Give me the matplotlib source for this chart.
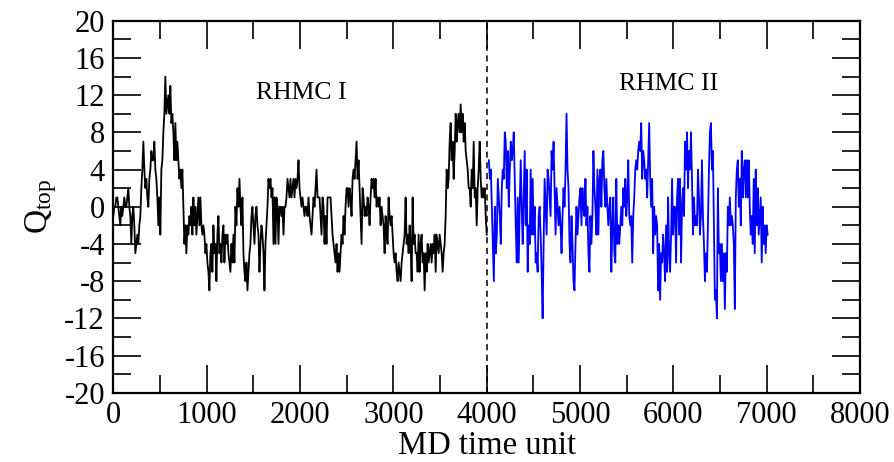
import numpy as np
import matplotlib
matplotlib.use("Agg")
import matplotlib.pyplot as plt
from matplotlib.ticker import MultipleLocator

# Topological charge history, RHMC I
q_rhmc1 = [
    # 0 - 1320
    -1, 0, 0, 1, 1, 0, -1, -2, 0, -1, 0, 1, 0, 0, 1,
    2, 0, -1, -4, -1, 0, -2, -5, -4, -3, -4, -2, -1, 2, 4, 7, 4, 2, 3, 1,
    0, 3, 4, 6, 5, 5, 7, 4, 3, 1, -2, 1, -3, 4, 5, 8, 10, 14, 10, 11,
    12, 10, 13, 9, 10, 8, 5, 9, 5, 7, 5, 3, 4, 2, 4, 0, -4, -2, -5, -2,
    -3, -1, -2, 0, -3, 1, -2, 0, -3, -1, 1, -2, 1, -2, -3, -2, -3, -5, -4, -6,
    -7, -9, -5, -4, -7, -2, -5, -4, -8, -3, -1, -5, -4, -6, -3, -2, -6, -3, -4, -3,
    -5, -6, -7, -4, -6, -3, -6, 0, -2,
    # 1330 - 2660
    2, 0, 3, 0, -2, 1, -5, -7, -8, -6, -9, -7, -5, -4, -1, 0, -2, -4, -1, 0,
    -2, -3, -7, -4, -2, -3, -5, -9, -4, -2, 0, 3, 2, 3, 1, 2, -4, 1, -4, 1,
    0, -4, 0, 0, -1, 0, -3, 0, 0, 1, 3, 2, 1, 3, 1, 2, 3, 1, 3, 2,
    3, 5, 2, 1, 0, 1, 0, -1, 0, 0, -1, 1, -1, -2, -3, -1, 1, 0, 2, 4,
    1, 1, 1, -1, -3, 1, 0, -4, -1, -4, 1, 1, 1, 1, -1, -3, -4, -5, -6, -4,
    -7, -5, -7, -5, -3, -4, -1, -3, 0, 2, 2, 0, 2, 1, -1, 3, 4, 3, 5, 7,
    3, 5, 2, -1, -4,
    # 2670 - 4000
    2, 1, -1, 0, -1, 1, 0, -2, 1, 3, 2, 3, 1, 3, 0, 1, 0, 1, -2, 0,
    -1, -2, -5, -1, -3, -4, 1, -1, -2, -1, -3, -5, -6, -5, -7, -8, -6, -7, -8, -6,
    -5, -4, -3, 1, -4, -3, -5, -2, -4, -8, 1, -4, -3, -5, -5, -7, -3, -7, -4, -3,
    -6, -5, -9, -5, -7, -4, -6, -5, -4, -6, -4, -5, -3, -7, -3, -4, -5, -3, -4, -5,
    -7, -5, -4, -1, 4, 2, 3, 7, 9, 5, 7, 3, 6, 10, 7, 9, 10, 8, 11, 8,
    10, 7, 9, 6, 5, 4, 2, 2, 0, 4, 2, 7, 1, 2, -2, 2, 4, 7, 3, 1,
    2, 1, 2, -1, -3,
]
t_rhmc1 = np.linspace(0, 4000, len(q_rhmc1))

# Topological charge history, RHMC II
q_rhmc2 = [
    5, 3, 4, 0, -4, -8, 0, -5, -3, 3, 1, -1, -4, 2, 4, 3, 8, 7, 2, 6,
    0, 4, 7, 5, 6, 8, 3, -2, -6, 1, -6, 0, 5, 0, -4, 1, 6, -2, 4, -7,
    -2, -4, 4, -3, 3, -3, 0, -6, -5, -7, -1, 0, -3, -7, -12, -4, 3, 0, -3, 4,
    3, 1, -1, 6, 4, 7, 2, -3, 2, 0, -2, 0, -2, -5, -1, 2, 0, 4, 10, 4,
    2, -4, -6, -1, -4, -8, -9, -4, 0, -3, -1, 1,
    2, -2, 2, 0, -1, 3, -2, 0, -5, -7, -1, -4, -1, 6, 2, 0, -3, 4, -3, 3,
    4, 0, 5, 6, 2, 0, 3, 0, -2, 0, 1, -7, -2, 1, -5, -6, 3, -4, -2, -4,
    -2, 0, -2, 2, 0, 3, -1, 1, 5, -1, -2, -1, -6, -1, 1, 4, 5, 4, 6, 7,
    6, 9, 3, 6, 5, 3, 4, 1, 5, 9, 3, 0, 3, -5, 0, -3, -1, -2, -9, -4,
    -10, -5, -6, -3, -5, -8, -2, -7, 1, -5, -7, -3, 3, -3, 0,
    0, -6, 1, 3, -3, 3, -6, 0, 2, -1, 7, 4, 8, 2, 6, 4, 8, 3, -3, 1,
    -2, -1, -2, 4, 1, -3, -1, 5, -1, -4, -8, -5, -7, -2, 4, 8, 9, 4, 6, -2,
    -10, -9, -12, 2, -5, -4, -8, -4, -8, -5, -11, -5, -7, 0, -2, 1, -2, -1, -2, -4,
    -11, 1, 4, 5, 0, 3, -2, 6, 1, 4, 5, 1, 5, 1, 5, 0, -3, -1, -4, 3,
    -5, 4, -2, 2, -3, -1, 1, -6, 0, -4, -2, -5, -2, -3,
]
t_rhmc2 = np.linspace(4023, 7010, len(q_rhmc2))

x_ticks = [0, 1000, 2000, 3000, 4000, 5000, 6000, 7000, 8000]
y_ticks = [-20, -16, -12, -8, -4, 0, 4, 8, 12, 16, 20]
boundary = 4000

plt.rcParams["font.family"] = ["Liberation Serif", "DejaVu Serif"]
plt.rcParams["mathtext.fontset"] = "custom"
plt.rcParams["mathtext.rm"] = "Liberation Serif"
plt.rcParams["mathtext.it"] = "Liberation Serif"

fig = plt.figure(figsize=(8.95, 4.62), dpi=100)
ax = fig.add_axes([0.1266, 0.150, 0.8344, 0.805])

ax.plot(t_rhmc1, q_rhmc1, color="black", lw=1.3)
ax.plot(t_rhmc2, q_rhmc2, color="#0000ff", lw=1.3)
ax.axvline(boundary, color="black", lw=1.1, ls=(0, (4, 3)))

ax.text(2013, 12.2, "RHMC I", fontsize=18.5, ha="center", va="center")
ax.text(5950, 13.2, "RHMC II", fontsize=18.5, ha="center", va="center")

ax.set_xlim(0, 8000)
ax.set_ylim(-20, 20)
ax.set_xticks(x_ticks)
ax.set_yticks(y_ticks)
ax.set_yticklabels([str(v) for v in y_ticks])
ax.xaxis.set_minor_locator(MultipleLocator(500))
ax.yaxis.set_minor_locator(MultipleLocator(2))
ax.tick_params(which="both", direction="in", top=True, right=True,
               width=1.2, labelsize=22, pad=6)
ax.tick_params(which="major", length=20)
ax.tick_params(which="minor", length=13)
for s in ax.spines.values():
    s.set_linewidth(1.6)

ax.set_xlabel("MD time unit", fontsize=23.5, labelpad=0)
ax.set_ylabel(r"Q$_{\mathrm{top}}$", fontsize=24, labelpad=4)

fig.savefig("out.png", dpi=100)
